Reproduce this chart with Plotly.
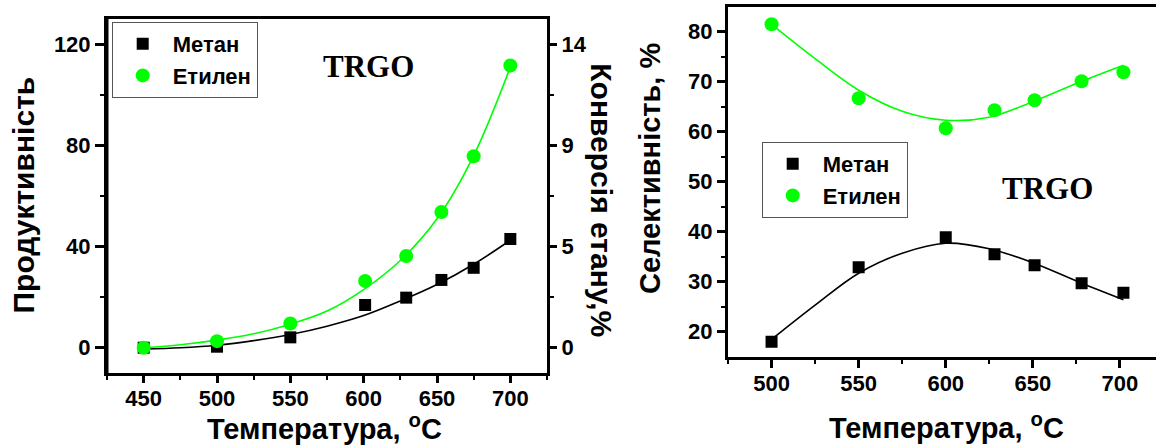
import plotly.graph_objects as go

W, H = 1156, 445

# ---- Left panel: productivity vs temperature ----
prod_temp = [450, 500, 550, 601, 629, 653, 675, 700]
prod_methane = [0.0, 0.4, 4.1, 16.9, 19.8, 26.8, 31.6, 43.0]
prod_ethylene = [0.0, 2.6, 9.6, 26.4, 36.3, 53.7, 75.7, 111.6]

fit_temp_left = [450, 475, 500, 525, 550, 575, 600, 625, 650, 675, 700]
fit_methane_left = [-0.5, 0.0, 1.0, 2.8, 5.2, 8.5, 12.7, 18.5, 25.0, 33.0, 42.5]
fit_ethylene_left = [0.0, 1.2, 3.0, 5.5, 9.3, 14.5, 23.0, 34.5, 51.0, 76.0, 111.0]

prod_ticks = [0, 40, 80, 120]
conv_tick_text = ["0", "5", "9", "14"]
conv_max = 14  # conversion value matching the top productivity tick

# ---- Right panel: selectivity vs temperature ----
sel_temp = [500, 550, 600, 628, 651, 678, 702]
sel_methane = [18.0, 32.9, 38.9, 35.5, 33.3, 29.7, 27.8]
sel_ethylene = [81.5, 66.7, 60.7, 64.3, 66.3, 70.1, 71.9]

fit_temp_right = [502, 525, 550, 575, 600, 625, 650, 676, 702]
fit_methane_right = [19.0, 25.3, 31.7, 35.7, 37.7, 36.6, 33.8, 30.0, 26.4]
fit_ethylene_right = [80.9, 74.6, 68.3, 64.1, 62.3, 62.9, 66.0, 69.8, 73.3]

temp_ticks_left = [450, 500, 550, 600, 650, 700]
temp_ticks_right = [500, 550, 600, 650, 700]
sel_ticks = [20, 30, 40, 50, 60, 70, 80]

GREEN = "#00ff00"
BLACK = "#000000"
SANS = "Liberation Sans"
SERIF = "Liberation Serif"


def px_x(p):
    return p / W


def px_y(p):
    return 1 - p / H


fig = go.Figure()

# fitted curves
fig.add_trace(go.Scatter(x=fit_temp_left, y=fit_methane_left, mode="lines",
                         line=dict(color=BLACK, width=1.6, shape="spline", smoothing=1),
                         showlegend=False, hoverinfo="skip", xaxis="x", yaxis="y"))
fig.add_trace(go.Scatter(x=fit_temp_left, y=fit_ethylene_left, mode="lines",
                         line=dict(color=GREEN, width=1.6, shape="spline", smoothing=1),
                         showlegend=False, hoverinfo="skip", xaxis="x", yaxis="y"))
fig.add_trace(go.Scatter(x=fit_temp_right, y=fit_methane_right, mode="lines",
                         line=dict(color=BLACK, width=1.6, shape="spline", smoothing=1),
                         showlegend=False, hoverinfo="skip", xaxis="x3", yaxis="y3"))
fig.add_trace(go.Scatter(x=fit_temp_right, y=fit_ethylene_right, mode="lines",
                         line=dict(color=GREEN, width=1.6, shape="spline", smoothing=1),
                         showlegend=False, hoverinfo="skip", xaxis="x3", yaxis="y3"))

# empty trace so the conversion axis is laid out
fig.add_trace(go.Scatter(x=[None], y=[None], mode="lines", showlegend=False,
                         hoverinfo="skip", xaxis="x", yaxis="y2"))

# measured points
fig.add_trace(go.Scatter(x=prod_temp, y=prod_methane, mode="markers", name="Метан",
                         marker=dict(symbol="square", size=12, color=BLACK),
                         xaxis="x", yaxis="y", legend="legend"))
fig.add_trace(go.Scatter(x=prod_temp, y=prod_ethylene, mode="markers", name="Етилен",
                         marker=dict(symbol="circle", size=14, color=GREEN),
                         xaxis="x", yaxis="y", legend="legend"))
fig.add_trace(go.Scatter(x=sel_temp, y=sel_methane, mode="markers", name="Метан",
                         marker=dict(symbol="square", size=12, color=BLACK),
                         xaxis="x3", yaxis="y3", legend="legend2"))
fig.add_trace(go.Scatter(x=sel_temp, y=sel_ethylene, mode="markers", name="Етилен",
                         marker=dict(symbol="circle", size=14, color=GREEN),
                         xaxis="x3", yaxis="y3", legend="legend2"))

tickfont = dict(family=SANS, size=22, color=BLACK, weight="bold")
axis_common = dict(showline=True, linewidth=3, linecolor=BLACK, ticks="outside",
                   tickwidth=2.5, tickcolor=BLACK, showgrid=False, zeroline=False,
                   tickfont=tickfont)


def minor(vals, length=4):
    return dict(ticks="outside", ticklen=length, tickwidth=2, tickcolor=BLACK, tickvals=vals)


conv_ratio = conv_max / prod_ticks[-1]
left_dom_x = [px_x(107), px_x(547)]
left_dom_y = [px_y(373), px_y(19)]

fig.update_layout(
    width=W, height=H, autosize=False,
    margin=dict(l=0, r=0, t=0, b=0),
    paper_bgcolor="white", plot_bgcolor="white",
    xaxis=dict(**axis_common, domain=left_dom_x, range=[425, 725],
               tickvals=temp_ticks_left, ticklen=7, mirror=True, anchor="y",
               ticklabelstandoff=-3,
               minor=minor([425, 475, 525, 575, 625, 675, 725])),
    yaxis=dict(**axis_common, domain=left_dom_y, range=[-10, 130],
               tickvals=prod_ticks, ticklen=9, anchor="x", side="left",
               minor=minor([20, 60, 100])),
    yaxis2=dict(**axis_common, domain=left_dom_y, overlaying="y", side="right",
                anchor="x", range=[-10 * conv_ratio, 130 * conv_ratio],
                tickvals=[v * conv_ratio for v in prod_ticks], ticktext=conv_tick_text,
                ticklen=7,
                minor=minor([v * conv_ratio for v in (20, 60, 100)])),
    xaxis3=dict(**axis_common, domain=[px_x(728), 1.0], range=[475, 720.7],
                tickvals=temp_ticks_right, ticklen=8, mirror=True, anchor="y3",
                ticklabelstandoff=-3,
                minor=minor([475, 525, 575, 625, 675])),
    yaxis3=dict(**axis_common, domain=[px_y(356.7), px_y(6.7)], range=[15, 85],
                tickvals=sel_ticks, ticklen=8, anchor="x3",
                minor=minor([25, 35, 45, 55, 65, 75])),
    legend=dict(x=px_x(111.7), y=px_y(22), xanchor="left", yanchor="top",
                bgcolor="white", bordercolor="#555555", borderwidth=1,
                font=dict(family=SANS, size=22, color=BLACK, weight="bold"),
                itemwidth=50, tracegroupgap=0),
    legend2=dict(x=px_x(761.7), y=px_y(142), xanchor="left", yanchor="top",
                 bgcolor="white", bordercolor="#555555", borderwidth=1,
                 font=dict(family=SANS, size=22, color=BLACK, weight="bold"),
                 itemwidth=50, tracegroupgap=0),
)

# left frame edge of the productivity panel
fig.add_shape(type="line", xref="paper", yref="paper",
              x0=left_dom_x[0], x1=left_dom_x[0], y0=left_dom_y[0], y1=left_dom_y[1],
              line=dict(color=BLACK, width=3), layer="above")

title_font = dict(family=SANS, size=30, color=BLACK, weight="bold")
annotations = [
    dict(text="Продуктивність", x=px_x(23), y=px_y(195.5), textangle=-90, font=title_font),
    dict(text="Конверсія етану,%", x=px_x(601.7), y=px_y(200), textangle=90, font=title_font),
    dict(text="Селективність, %", x=px_x(650.7), y=px_y(168.3), textangle=-90,
         font=dict(family=SANS, size=29, color=BLACK, weight="bold")),
    dict(text="Температура, <sup>o</sup>C", x=px_x(324.6), y=px_y(427),
         font=dict(family=SANS, size=29, color=BLACK, weight="bold")),
    dict(text="Температура, <sup>o</sup>C", x=px_x(946), y=px_y(426),
         font=dict(family=SANS, size=29, color=BLACK, weight="bold")),
    dict(text="TRGO", x=px_x(368.7), y=px_y(66.7),
         font=dict(family=SERIF, size=31, color=BLACK, weight="bold")),
    dict(text="TRGO", x=px_x(1047), y=px_y(188.3),
         font=dict(family=SERIF, size=31, color=BLACK, weight="bold")),
]
for a in annotations:
    a.update(xref="paper", yref="paper", xanchor="center", yanchor="middle", showarrow=False)
fig.update_layout(annotations=annotations)

fig.write_html("out.html")
